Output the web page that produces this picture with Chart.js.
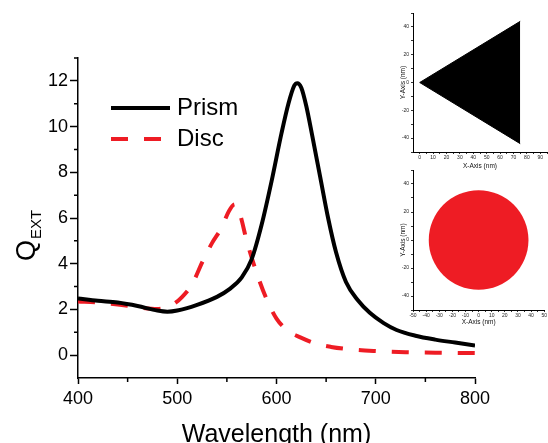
<!DOCTYPE html>
<html>
<head>
<meta charset="utf-8">
<script src="https://cdn.jsdelivr.net/npm/chart.js@4.4.0/dist/chart.umd.min.js"></script>
<style>
html, body { margin: 0; padding: 0; background: #fff; }
#wrap { position: relative; width: 548px; height: 443px; overflow: hidden; }
#main { position: absolute; left: 0; top: 0; }
.inset { position: absolute; }
</style>
</head>
<body>
<div id="wrap">
  <canvas id="main" width="548" height="443"></canvas>
  <div class="inset" style="left:380px;top:5px;width:168px;height:170px"><canvas id="tri" width="168" height="170"></canvas></div>
  <div class="inset" style="left:380px;top:163px;width:168px;height:165px"><canvas id="disc" width="168" height="165"></canvas></div>
</div>
<script>
// main spectrum
const prismWl = [400, 420, 440, 460, 480, 490, 500, 520, 540, 553, 565, 575, 585, 595, 605, 612, 618, 621, 625, 630, 636, 644, 652, 660, 670, 682, 694, 708, 721, 740, 760, 780, 800];
const prismQ  = [2.48, 2.38, 2.3, 2.15, 1.95, 1.9, 1.95, 2.2, 2.55, 2.9, 3.4, 4.2, 5.7, 7.6, 9.7, 11.0, 11.8, 11.9, 11.7, 10.9, 9.6, 7.8, 6.0, 4.5, 3.2, 2.4, 1.85, 1.4, 1.1, 0.85, 0.68, 0.55, 0.42];
const discWl = [400, 420, 440, 460, 480, 495, 505, 515, 525, 535, 545, 552, 558, 563, 570, 580, 590, 600, 612, 624, 640, 655, 675, 700, 730, 760, 800];
const discQ  = [2.35, 2.3, 2.22, 2.1, 2.02, 2.2, 2.55, 3.1, 4.05, 4.9, 5.6, 6.3, 6.6, 6.2, 5.0, 3.6, 2.45, 1.6, 1.05, 0.78, 0.5, 0.36, 0.25, 0.18, 0.13, 0.11, 0.09];

const xTicks = [400, 500, 600, 700, 800];
const xMinor = [450, 550, 650, 750];
const yTicks = [0, 2, 4, 6, 8, 10, 12];
const yMinor = [1, 3, 5, 7, 9, 11, 13];

// insets (nm)
const triX = [0, 75];
const triTop = [0, 44];
const triBottom = [0, -44];
const triXTicks = [0, 5, 10, 15, 20, 25, 30, 35, 40, 45, 50, 55, 60, 65, 70, 75, 80, 85, 90, 95];
const discXTicks = [-50, -45, -40, -35, -30, -25, -20, -15, -10, -5, 0, 5, 10, 15, 20, 25, 30, 35, 40, 45, 50];
const insetYTicks = [-50, -40, -30, -20, -10, 0, 10, 20, 30, 40, 50];
const discCenter = [0, 0];
const discRadius = 38;

const FONT = '"Liberation Sans", Arial, Helvetica, sans-serif';
const RED = '#ee1c24';

const toPoints = (xs, ys) => xs.map((v, i) => ({ x: v, y: ys[i] }));

const mainExtras = {
  id: 'mainExtras',
  afterDraw(chart) {
    const { ctx, scales: { x, y } } = chart;
    ctx.save();
    ctx.strokeStyle = '#000';
    ctx.lineWidth = 1.5;
    ctx.beginPath();
    yMinor.forEach(v => {
      const py = y.getPixelForValue(v);
      ctx.moveTo(y.right - 4, py);
      ctx.lineTo(y.right, py);
    });
    xMinor.forEach(v => {
      const px = x.getPixelForValue(v);
      ctx.moveTo(px, x.top);
      ctx.lineTo(px, x.top + 4);
    });
    ctx.stroke();

    // legend
    chart.data.datasets.forEach((ds, i) => {
      const ly = 108 + i * 31;
      ctx.beginPath();
      ctx.setLineDash(ds.borderDash || []);
      ctx.strokeStyle = ds.borderColor;
      ctx.lineWidth = ds.borderWidth;
      ctx.moveTo(111, ly);
      ctx.lineTo(170, ly);
      ctx.stroke();
      ctx.setLineDash([]);
      ctx.fillStyle = '#000';
      ctx.font = '24px ' + FONT;
      ctx.textBaseline = 'middle';
      ctx.fillText(ds.label, 177, ly);
    });

    // y title with subscript
    ctx.translate(35, 261);
    ctx.rotate(-Math.PI / 2);
    ctx.fillStyle = '#000';
    ctx.textBaseline = 'alphabetic';
    ctx.font = '27px ' + FONT;
    ctx.fillText('Q', 0, 0);
    const w = ctx.measureText('Q').width;
    ctx.font = '15px ' + FONT;
    ctx.fillText('EXT', w + 1, 6);
    ctx.restore();
  }
};

new Chart(document.getElementById('main'), {
  type: 'line',
  data: {
    datasets: [{
      label: 'Prism',
      data: toPoints(prismWl, prismQ),
      borderColor: '#000',
      borderWidth: 4,
      cubicInterpolationMode: 'monotone',
      fill: false
    }, {
      label: 'Disc',
      data: toPoints(discWl, discQ),
      borderColor: RED,
      borderWidth: 4,
      borderDash: [17, 16],
      cubicInterpolationMode: 'monotone',
      fill: false
    }]
  },
  options: {
    responsive: false,
    animation: false,
    layout: { padding: { top: 58, right: 73, left: 0, bottom: 0 } },
    elements: { point: { radius: 0 } },
    plugins: { legend: { display: false }, tooltip: { enabled: false } },
    scales: {
      x: {
        type: 'linear', min: 400, max: 800,
        afterBuildTicks: s => { s.ticks = xTicks.map(v => ({ value: v })); },
        afterFit: s => { s.height = 65; },
        grid: { drawOnChartArea: false, color: '#000', tickLength: 6, tickWidth: 1.5 },
        border: { color: '#000', width: 1.5 },
        ticks: { color: '#000', font: { family: FONT, size: 18 }, padding: 4, maxRotation: 0, autoSkip: false },
        title: { display: true, text: 'Wavelength (nm)', color: '#000', font: { family: FONT, size: 25, lineHeight: 1 }, padding: { top: 0, bottom: -5 } }
      },
      y: {
        type: 'linear', min: -1, max: 13,
        afterBuildTicks: s => { s.ticks = yTicks.map(v => ({ value: v })); },
        afterFit: s => { s.width = 78; },
        grid: { drawOnChartArea: false, color: '#000', tickLength: 8, tickWidth: 1.5 },
        border: { color: '#000', width: 1.5 },
        ticks: { color: '#000', font: { family: FONT, size: 18 }, padding: 2 }
      }
    }
  },
  plugins: [mainExtras]
});

function insetScales(xMin, xMax, xTickVals, xHeight, xTitlePad) {
  return {
    x: {
      type: 'linear', min: xMin, max: xMax,
      afterBuildTicks: s => { s.ticks = xTickVals.map(v => ({ value: v })); },
      afterFit: s => { s.height = xHeight; },
      grid: { drawOnChartArea: false, color: '#000', tickLength: 2, tickWidth: 0.8 },
      border: { color: '#000', width: 1 },
      ticks: {
        color: '#222', font: { family: FONT, size: 5 }, padding: 1, maxRotation: 0, autoSkip: false,
        callback: v => (v % 10 === 0 ? String(v) : '')
      },
      title: { display: true, text: 'X-Axis (nm)', color: '#111', font: { family: FONT, size: 6.5, lineHeight: 1 }, padding: { bottom: xTitlePad, top: 0 } }
    },
    y: {
      type: 'linear', min: -50, max: 50,
      afterBuildTicks: s => { s.ticks = insetYTicks.map(v => ({ value: v })); },
      afterFit: s => { s.width = 33; },
      grid: { drawOnChartArea: false, color: '#000', tickLength: 2, tickWidth: 0.8 },
      border: { color: '#000', width: 1 },
      ticks: {
        color: '#222', font: { family: FONT, size: 5 }, padding: 2,
        callback: v => (v % 20 === 0 && Math.abs(v) < 50 ? String(v) : '')
      },
      title: { display: true, text: 'Y-Axis (nm)', color: '#111', font: { family: FONT, size: 6.5, lineHeight: 1 }, padding: { top: 20, bottom: 0 } }
    }
  };
}

new Chart(document.getElementById('tri'), {
  type: 'line',
  data: {
    datasets: [{
      data: toPoints(triX, triTop),
      borderColor: '#000', borderWidth: 1, backgroundColor: '#000', fill: '+1', pointRadius: 0
    }, {
      data: toPoints(triX, triBottom),
      borderColor: '#000', borderWidth: 1, fill: false, pointRadius: 0
    }]
  },
  options: {
    responsive: false,
    animation: false,
    layout: { padding: { top: 8, right: 1, left: 0, bottom: 0 } },
    plugins: { legend: { display: false }, tooltip: { enabled: false } },
    scales: insetScales(-5, 95, triXTicks, 23, 6)
  }
});

new Chart(document.getElementById('disc'), {
  type: 'scatter',
  data: {
    datasets: [{
      data: [{ x: discCenter[0], y: discCenter[1] }],
      backgroundColor: RED,
      borderWidth: 0,
      pointRadius: ctx => {
        const s = ctx.chart.scales.x;
        return Math.abs(s.getPixelForValue(discRadius) - s.getPixelForValue(0));
      }
    }]
  },
  options: {
    responsive: false,
    animation: false,
    layout: { padding: { top: 7, right: 1, left: 0, bottom: 0 } },
    plugins: { legend: { display: false }, tooltip: { enabled: false } },
    scales: insetScales(-50, 50, discXTicks, 18, 3)
  }
});
</script>
</body>
</html>
